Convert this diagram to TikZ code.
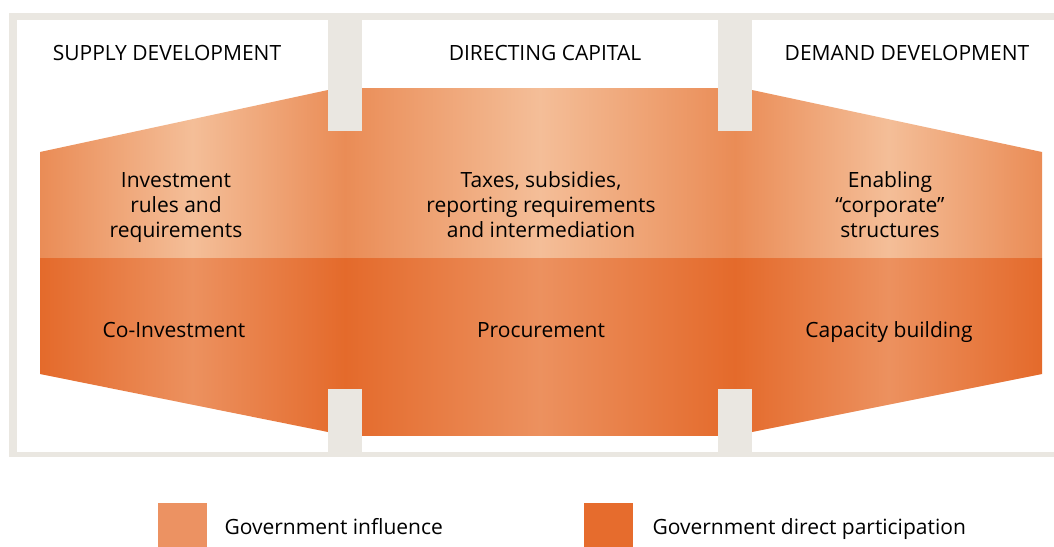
\documentclass[tikz,border=0pt]{standalone}
\usepackage{fontspec}
\setmainfont{Open Sans}
\definecolor{framegrey}{HTML}{EAE7E1}
\definecolor{updark}{HTML}{EA8C56}
\definecolor{uplight}{HTML}{F4BE98}
\definecolor{lowdark}{HTML}{E46A2B}
\definecolor{lowlight}{HTML}{EC915F}
\definecolor{influence}{HTML}{EC9262}
\definecolor{direct}{HTML}{E66C2D}
\tikzset{
  upperband/.style={left color=updark, right color=updark, middle color=uplight},
  lowerband/.style={left color=lowdark, right color=lowdark, middle color=lowlight},
  head/.style={anchor=base, font=\fontsize{21}{25}\selectfont},
  lbl/.style={anchor=base, align=center, font=\fontsize{21}{25}\selectfont},
  key/.style={anchor=base west, font=\fontsize{21}{25}\selectfont}
}
\begin{document}
\begin{tikzpicture}[x=1pt,y=-1pt]
\useasboundingbox (0,0) rectangle (1054,546);
\clip (0,0) rectangle (1054,546);
%frame
\fill[framegrey] (9,13) rectangle (1060,457);
\fill[white] (17,20) rectangle (1060,452);
%upper band
\shade[upperband] (40,152) -- (328,90) -- (345,88) -- (345,258) -- (40,258) -- cycle;
\shade[upperband] (345,88) rectangle (735,258);
\shade[upperband] (735,88) -- (752,90) -- (1042,152) -- (1042,258) -- (735,258) -- cycle;
%lower band
\shade[lowerband] (40,258) -- (345,258) -- (345,435) -- (328,432) -- (40,374) -- cycle;
\shade[lowerband] (345,258) rectangle (735,435);
\shade[lowerband] (735,258) -- (1042,258) -- (1042,374) -- (752,432) -- (735,435) -- cycle;
%bars
\foreach \x in {328,718}{
  \fill[framegrey] (\x,20) rectangle (\x+34,131);
  \fill[framegrey] (\x,389) rectangle (\x+34,452);
}
%headings
\node[head] (supply) at (167,60) {SUPPLY DEVELOPMENT};
\node[head] (capital) at (545,60) {DIRECTING CAPITAL};
\node[head] (demand) at (907,60) {DEMAND DEVELOPMENT};
%influence (base = last line)
\node[lbl] (rules) at (176,237) {Investment\\rules and\\requirements};
\node[lbl] (taxes) at (541,237) {Taxes, subsidies,\\reporting requirements\\and intermediation};
\node[lbl] (enabling) at (890,237) {Enabling\\“corporate”\\structures};
%participation
\node[lbl] (coinv) at (174,337) {Co-Investment};
\node[lbl] (procure) at (541,337) {Procurement};
\node[lbl] (capacity) at (889,337) {Capacity building};
%legend
\fill[influence] (158,503) rectangle (207,550);
\node[key] (infl) at (221,534) {Government influence};
\fill[direct] (584,503) rectangle (633,550);
\node[key] (part) at (649,534) {Government direct participation};
\end{tikzpicture}
\end{document}
